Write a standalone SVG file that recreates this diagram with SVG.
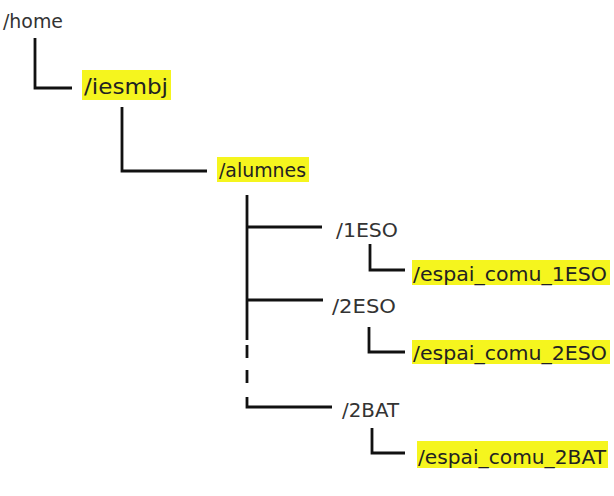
<svg xmlns="http://www.w3.org/2000/svg" width="614" height="496" viewBox="0 0 614 496">
<style>
text{font-family:"DejaVu Sans","Verdana",sans-serif;}
.plain{fill:#333;font-size:20px;}
.hl{fill:#222;font-size:20px;}
.hlbox{fill:#f5f51e;}
.ln{fill:none;stroke:#111;stroke-width:2.8;}
</style>
<rect width="614" height="496" fill="#fff"/>
<g id="connectors">
<path class="ln" d="M35,38 V88 H72"/>
<path class="ln" d="M122,107 V171 H207"/>
<path class="ln" d="M247,195 V340"/>
<path class="ln" d="M247,345 V358"/>
<path class="ln" d="M247,370 V383"/>
<path class="ln" d="M247,397 V407 H332"/>
<path class="ln" d="M247,227 H322"/>
<path class="ln" d="M247,300 H323"/>
<path class="ln" d="M370,244 V270 H405"/>
<path class="ln" d="M369,327 V352 H405"/>
<path class="ln" d="M372,428 V453 H405"/>
</g>
<g id="home"><text class="plain" x="3" y="28" textLength="60" lengthAdjust="spacingAndGlyphs">/home</text></g>
<g id="iesmbj"><rect class="hlbox" x="82" y="70" width="89" height="30"/><text class="hl" x="84" y="94" style="font-size:22px" textLength="84" lengthAdjust="spacingAndGlyphs">/iesmbj</text></g>
<g id="alumnes"><rect class="hlbox" x="217" y="157" width="92" height="25"/><text class="hl" x="219" y="177" textLength="87" lengthAdjust="spacingAndGlyphs">/alumnes</text></g>
<g id="n1ESO"><text class="plain" x="336" y="237" textLength="62" lengthAdjust="spacingAndGlyphs">/1ESO</text></g>
<g id="e1ESO"><rect class="hlbox" x="412" y="260" width="198" height="25"/><text class="hl" x="413" y="281" textLength="194" lengthAdjust="spacingAndGlyphs">/espai_comu_1ESO</text></g>
<g id="n2ESO"><text class="plain" x="332" y="313" textLength="64" lengthAdjust="spacingAndGlyphs">/2ESO</text></g>
<g id="e2ESO"><rect class="hlbox" x="412" y="340" width="198" height="24"/><text class="hl" x="413" y="360" textLength="194" lengthAdjust="spacingAndGlyphs">/espai_comu_2ESO</text></g>
<g id="n2BAT"><text class="plain" x="342" y="417" textLength="57" lengthAdjust="spacingAndGlyphs">/2BAT</text></g>
<g id="e2BAT"><rect class="hlbox" x="417" y="441" width="191" height="27"/><text class="hl" x="418" y="464" textLength="188" lengthAdjust="spacingAndGlyphs">/espai_comu_2BAT</text></g>
</svg>
